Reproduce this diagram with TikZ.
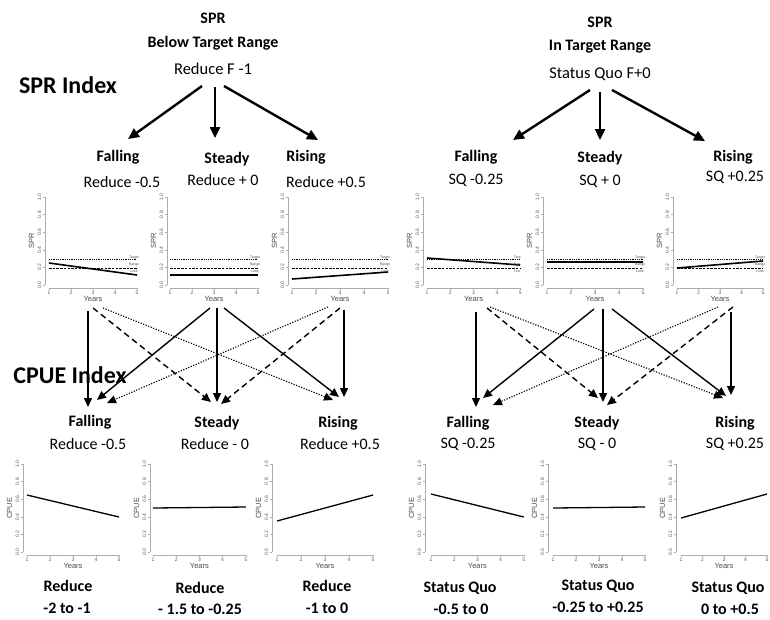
\documentclass[tikz,border=0pt]{standalone}
\usepackage{fontspec}
\setmainfont{Carlito}
\newfontfamily\plotfont{Liberation Sans}
\usetikzlibrary{arrows.meta}
\tikzset{
 lbl/.style={font=\fontsize{16}{18}\selectfont, inner sep=0},
 toplbl/.style={font=\fontsize{16.5}{18}\selectfont, inner sep=0},
 hdr/.style={font=\bfseries\fontsize{16}{18}\selectfont, inner sep=0},
 big/.style={font=\bfseries\fontsize{24}{26}\selectfont, inner sep=0},
 toparrow/.style={line width=2.4pt, -{Triangle[length=11pt,width=10pt]}},
 sarrow/.style={line width=1.4pt, -{Triangle[length=9pt,width=8pt]}},
 darrow/.style={line width=1.4pt, dash pattern=on 6pt off 4pt, -{Triangle[length=9pt,width=8pt]}},
 parrow/.style={line width=1.1pt, dash pattern=on 1.2pt off 1.5pt, -{Triangle[length=9pt,width=8pt]}},
 axisln/.style={gray!65, line width=0.45pt},
 ticklbl/.style={font=\plotfont\fontsize{5}{5}\selectfont, text=gray!70!black, inner sep=0},
 axlbl/.style={font=\plotfont\fontsize{7.5}{8}\selectfont, text=gray!60!black, inner sep=0},
 leglbl/.style={font=\plotfont\fontsize{3.5}{4}\selectfont, text=gray!60!black, inner sep=0},
 dataline/.style={line width=1.6pt, black},
 tgtline/.style={line width=0.9pt, dash pattern=on 0.9pt off 0.9pt},
 limline/.style={line width=0.9pt, dash pattern=on 2.5pt off 1.2pt},
}
% #1 name, #2 axis x, #3 first tick x, #4 tick spacing, #5 y of 1.0, #6 y of 0.0, #7 y label
\newcommand\myplotframe[7]{%
 \draw[axisln] (#2,#5) -- (#2,#6);
 \foreach \v/\t [count=\k] in {0/0.0,0.2/0.2,0.4/0.4,0.6/0.6,0.8/0.8,1/1.0}{
  \draw[axisln] (#2,{#6-(#6-#5)*\v}) -- ++(-2,0);
  \node[ticklbl,rotate=90] (#1-y\k) at (#2-5.5,{#6-(#6-#5)*\v}) {\t};
 }
 \draw[axisln] (#3,#6+3) -- ({#3+4*#4},#6+3);
 \foreach \i in {1,...,5}{
  \draw[axisln] ({#3+(\i-1)*#4},#6+3) -- ++(0,2);
  \node[ticklbl] (#1-x\i) at ({#3+(\i-1)*#4},#6+8) {\i};
 }
 \node[axlbl] (#1-years) at ({#3+2*#4},#6+14) {Years};
 \node[axlbl,rotate=90] (#1-ylab) at (#2-13.5,{(#5+#6)/2}) {#7};
}
% SPR plot: #1 name, #2 axis, #3 t1, #4 sp, #5 start y, #6 end y, #7/#8/#9 legend texts
\newcommand\mysprplot[9]{%
 \myplotframe{#1}{#2}{#3}{#4}{197}{285}{SPR}
 \draw[tgtline] (#3,259) -- ({#3+4*#4},259);
 \draw[limline] (#3,268) -- ({#3+4*#4},268);
 \draw[dataline] (#3,#5) -- ({#3+4*#4},#6);
 \node[leglbl] (#1-tg) at ({#3+4*#4-3},258) {#7};
 \node[leglbl] (#1-rg) at ({#3+4*#4-3},264.5) {#8};
 \node[leglbl] (#1-lm) at ({#3+4*#4-3},271) {#9};
}
\newcommand\mycpueplot[6]{%
 \myplotframe{#1}{#2}{#3}{#4}{464}{552}{CPUE}
 \draw[line width=1.3pt] (#3,#5) -- ({#3+4*#4},#6);
}
\begin{document}
\begin{tikzpicture}[x=1pt,y=-1pt]
\path[use as bounding box] (0,0) rectangle (770,619);
\clip (0,0) rectangle (770,619);
\fill[white] (0,0) rectangle (770,619);

% ---------- left top ----------
\node[hdr] (lspr) at (213,18) {SPR};
\node[hdr] (lbtr) at (213,43) {Below Target Range};
\node[toplbl] (lrf) at (213,69) {Reduce F -1};
\node[big] (sprindex) at (68,85) {SPR Index};
\node[hdr] (lfall) at (118,157) {Falling};
\node[lbl] (lfallv) at (122,182) {Reduce -0.5};
\node[hdr] (lstdy) at (227,159) {Steady};
\node[lbl] (lstdyv) at (223,180) {Reduce + 0};
\node[hdr] (lrise) at (306,157) {Rising};
\node[lbl] (lrisev) at (326,182) {Reduce +0.5};
\coordinate (la1) at (202,86); \coordinate (la1e) at (128,139);
\coordinate (la2) at (215,87); \coordinate (la2e) at (215,138);
\coordinate (la3) at (224,86); \coordinate (la3e) at (318,140);
\draw[toparrow] (la1) -- (la1e);
\draw[toparrow] (la2) -- (la2e);
\draw[toparrow] (la3) -- (la3e);

% ---------- right top ----------
\node[hdr] (rspr) at (600,22) {SPR};
\node[hdr] (ritr) at (600,47) {In Target Range};
\node[toplbl] (rsq) at (600,74) {Status Quo F+0};
\node[hdr] (rfall) at (476,157) {Falling};
\node[lbl] (rfallv) at (476,180) {SQ -0.25};
\node[hdr] (rstdy) at (600,158) {Steady};
\node[lbl] (rstdyv) at (600,181) {SQ + 0};
\node[hdr] (rrise) at (733,157) {Rising};
\node[lbl] (rrisev) at (735,177) {SQ +0.25};
\coordinate (ra1) at (590,90); \coordinate (ra1e) at (513,140);
\coordinate (ra2) at (600,92); \coordinate (ra2e) at (600,140);
\coordinate (ra3) at (612,90); \coordinate (ra3e) at (705,141);
\draw[toparrow] (ra1) -- (ra1e);
\draw[toparrow] (ra2) -- (ra2e);
\draw[toparrow] (ra3) -- (ra3e);

% ---------- SPR plots ----------
\mysprplot{sp1}{45}{49}{22}{263}{275}{Target}{Range}{Limit}
\mysprplot{sp2}{167}{170}{22}{275}{275}{Target}{Range}{Limit}
\mysprplot{sp3}{288}{292}{24}{279}{272}{Target}{Range}{Limit}
\mysprplot{sp4}{423}{427}{23.3}{258}{265}{Targ}{Ran}{Lim}
\mysprplot{sp5}{543}{547}{24}{262}{262}{Target}{Range}{Limit}
\mysprplot{sp6}{673}{677}{21.5}{268}{261}{Target}{Range}{Limit}

% ---------- CPUE index title ----------
\node[big] (cpueindex) at (70,375) {CPUE Index};

% ---------- middle labels ----------
\node[hdr] (lbfall) at (90,422) {Falling};
\node[lbl] (lbfallv) at (88,444) {Reduce -0.5};
\node[hdr] (lbstdy) at (217,423) {Steady};
\node[lbl] (lbstdyv) at (215,444) {Reduce - 0};
\node[hdr] (lbrise) at (338,423) {Rising};
\node[lbl] (lbrisev) at (340,444) {Reduce +0.5};
\node[hdr] (rbfall) at (468,423) {Falling};
\node[lbl] (rbfallv) at (468,444) {SQ -0.25};
\node[hdr] (rbstdy) at (597,423) {Steady};
\node[lbl] (rbstdyv) at (597,444) {SQ - 0};
\node[hdr] (rbrise) at (735,423) {Rising};
\node[lbl] (rbrisev) at (735,444) {SQ +0.25};

% ---------- left connectors ----------
\coordinate (s1a) at (88,311);  \coordinate (t1a) at (88,407);
\coordinate (s1b) at (93,308);  \coordinate (t2b) at (211,402);
\coordinate (s1c) at (103,308); \coordinate (t3c) at (333,400);
\coordinate (s2a) at (210,308); \coordinate (t1b) at (97,400);
\coordinate (s2b) at (217,308); \coordinate (t2a) at (217,402);
\coordinate (s2c) at (224,308); \coordinate (t3b) at (339,397);
\coordinate (s3a) at (328,307); \coordinate (t1c) at (107,403);
\coordinate (s3b) at (340,308); \coordinate (t2c) at (221,404);
\coordinate (s3c) at (344,310); \coordinate (t3a) at (344,397);
\draw[sarrow] (s1a) -- (t1a);
\draw[darrow] (s1b) -- (t2b);
\draw[parrow] (s1c) -- (t3c);
\draw[sarrow] (s2a) -- (t1b);
\draw[sarrow] (s2b) -- (t2a);
\draw[sarrow] (s2c) -- (t3b);
\draw[parrow] (s3a) -- (t1c);
\draw[darrow] (s3b) -- (t2c);
\draw[sarrow] (s3c) -- (t3a);

% ---------- right connectors ----------
\coordinate (u1a) at (476,312); \coordinate (v1a) at (476,407);
\coordinate (u1b) at (487,308); \coordinate (v2b) at (598,398);
\coordinate (u1c) at (490,307); \coordinate (v3c) at (723,398);
\coordinate (u2a) at (594,309); \coordinate (v1b) at (483,398);
\coordinate (u2b) at (603,309); \coordinate (v2a) at (603,402);
\coordinate (u2c) at (612,309); \coordinate (v3b) at (726,396);
\coordinate (u3a) at (718,307); \coordinate (v1c) at (493,405);
\coordinate (u3b) at (733,307); \coordinate (v2c) at (607,405);
\coordinate (u3c) at (731,312); \coordinate (v3a) at (731,395);
\draw[sarrow] (u1a) -- (v1a);
\draw[darrow] (u1b) -- (v2b);
\draw[parrow] (u1c) -- (v3c);
\draw[sarrow] (u2a) -- (v1b);
\draw[sarrow] (u2b) -- (v2a);
\draw[sarrow] (u2c) -- (v3b);
\draw[parrow] (u3a) -- (v1c);
\draw[darrow] (u3b) -- (v2c);
\draw[sarrow] (u3c) -- (v3a);

% ---------- CPUE plots ----------
\mycpueplot{cp1}{23}{27}{23}{495}{517}
\mycpueplot{cp2}{150}{153}{23.2}{508}{507}
\mycpueplot{cp3}{272}{277}{24}{521}{495}
\mycpueplot{cp4}{425}{431}{23.2}{494}{517}
\mycpueplot{cp5}{548}{553}{23}{508}{507}
\mycpueplot{cp6}{676}{681}{21.5}{518}{494}

% ---------- bottom labels ----------
\node[hdr] (b1a) at (68,586) {Reduce};
\node[hdr] (b1b) at (67,608) {-2 to -1};
\node[hdr] (b2a) at (200,588) {Reduce};
\node[hdr] (b2b) at (200,609) {- 1.5 to -0.25};
\node[hdr] (b3a) at (327,586) {Reduce};
\node[hdr] (b3b) at (327,608) {-1 to 0};
\node[hdr] (b4a) at (460,588) {Status Quo};
\node[hdr] (b4b) at (461,609) {-0.5 to 0};
\node[hdr] (b5a) at (598,586) {Status Quo};
\node[hdr] (b5b) at (598,607) {-0.25 to +0.25};
\node[hdr] (b6a) at (728,588) {Status Quo};
\node[hdr] (b6b) at (730,609) {0 to +0.5};
\end{tikzpicture}
\end{document}
